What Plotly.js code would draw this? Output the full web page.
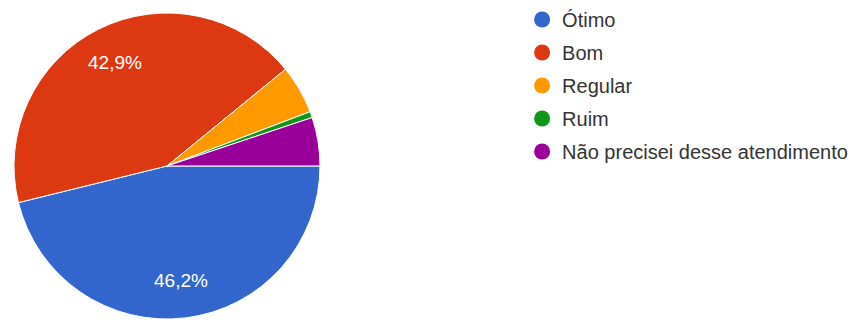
<!DOCTYPE html>
<html>
<head>
<meta charset="utf-8">
<script src="https://cdn.plot.ly/plotly-3.0.1.min.js"></script>
<style>html,body{margin:0;padding:0;background:#fff;}#chart{width:863px;height:320px;}</style>
</head>
<body>
<div id="chart"></div>
<script>
const categories = ["Ótimo", "Bom", "Regular", "Ruim", "Não precisei desse atendimento"];
const counts = [72, 67, 8, 1, 8];
const colors = ["#3366cc", "#dc3912", "#ff9900", "#109618", "#990099"];
const shownLabel = [true, true, false, false, false];

const W = 863, H = 320;
const pieLeft = 14, pieRight = 320, pieTop = 13, pieBottom = 319;

const pie = {
  type: "pie",
  labels: categories,
  values: counts,
  sort: false,
  direction: "clockwise",
  rotation: 90,
  marker: {colors: colors, line: {color: "#ffffff", width: 1}},
  textinfo: "none",
  hoverinfo: "none",
  showlegend: false,
  domain: {x: [pieLeft / W, pieRight / W], y: [1 - pieBottom / H, 1 - pieTop / H]}
};

// percentage labels placed Google-style at ~75% of the radius along each slice's mid-angle
const total = counts.reduce((a, b) => a + b, 0);
const cx = (pieLeft + pieRight) / 2, cy = (pieTop + pieBottom) / 2, R = (pieRight - pieLeft) / 2;
const annotations = [];
let cum = 0;
counts.forEach((v, i) => {
  const frac = v / total;
  const mid = (cum + frac / 2) * 2 * Math.PI; // clockwise from 3 o'clock
  cum += frac;
  if (!shownLabel[i]) return;
  const px = cx + 0.755 * R * Math.cos(mid);
  const py = cy + 0.755 * R * Math.sin(mid);
  annotations.push({
    xref: "paper", yref: "paper",
    x: px / W, y: 1 - py / H,
    xanchor: "center", yanchor: "middle",
    showarrow: false,
    text: (frac * 100).toFixed(1).replace(".", ",") + "%",
    font: {family: "Arial, Liberation Sans, sans-serif", size: 19, color: "#ffffff"}
  });
});

const legendTraces = categories.map((c, i) => ({
  type: "scatter",
  mode: "markers",
  x: [null], y: [null],
  name: c,
  legendgroup: "g" + i,
  marker: {color: colors[i], size: 16, symbol: "circle"},
  showlegend: true,
  hoverinfo: "none"
}));

const layout = {
  width: W, height: H,
  margin: {l: 0, r: 0, t: 0, b: 0},
  paper_bgcolor: "#ffffff",
  plot_bgcolor: "#ffffff",
  xaxis: {visible: false},
  yaxis: {visible: false},
  annotations: annotations,
  showlegend: true,
  legend: {
    x: 0.605, y: 1.0, xanchor: "left", yanchor: "top",
    traceorder: "grouped",
    tracegroupgap: 4,
    font: {family: "Arial, Liberation Sans, sans-serif", size: 20, color: "#333333"},
    itemsizing: "trace",
    bgcolor: "rgba(0,0,0,0)"
  }
};

Plotly.newPlot("chart", [pie, ...legendTraces], layout, {staticPlot: true});
</script>
</body>
</html>
